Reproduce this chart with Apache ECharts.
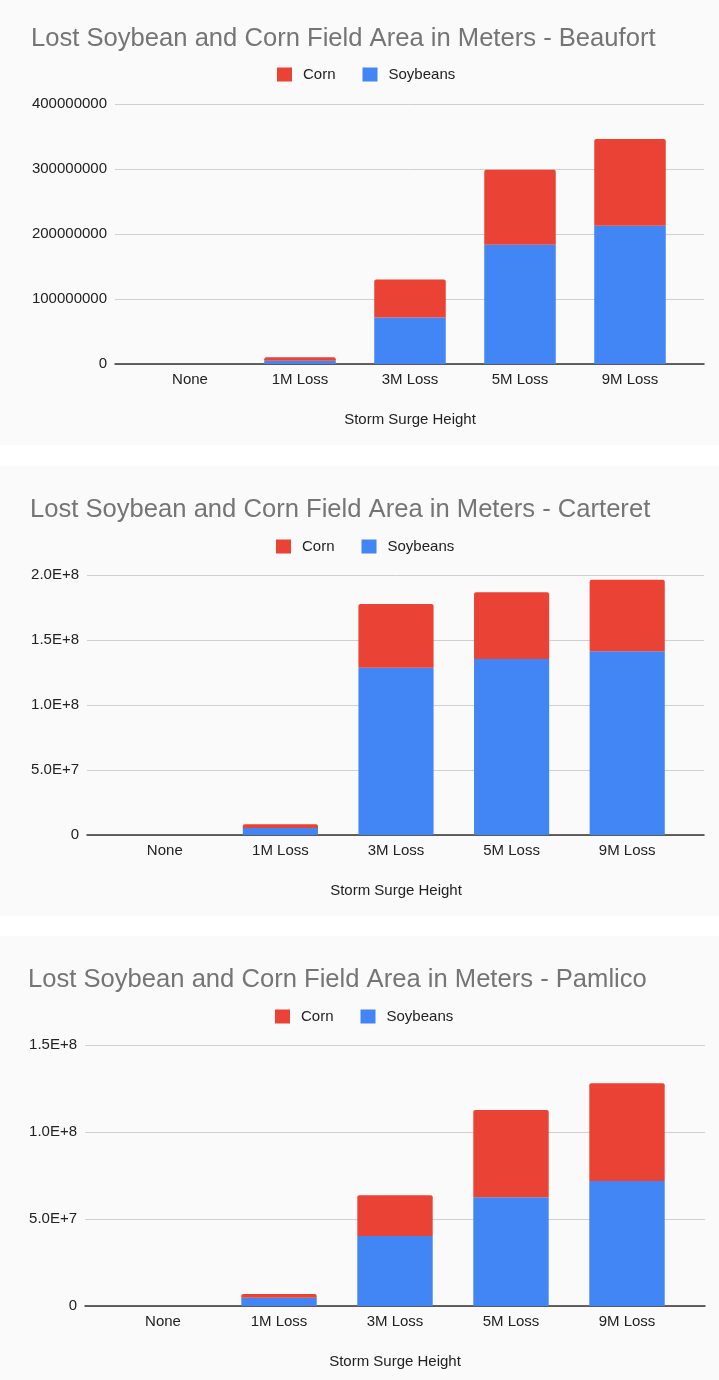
<!DOCTYPE html>
<html><head><meta charset="utf-8">
<script src="https://cdn.jsdelivr.net/npm/echarts@6/dist/echarts.min.js"></script>
<style>
html,body{margin:0;padding:0;background:#fff;}
#wrap{position:relative;width:719px;height:1380px;}
.panel{position:absolute;left:0;width:719px;background:#fafafa;}
#chart{position:absolute;left:0;top:0;width:719px;height:1380px;}
</style></head>
<body>
<div id="wrap">
<div class="panel" style="top:0;height:445px"></div>
<div class="panel" style="top:466px;height:450px"></div>
<div class="panel" style="top:936px;height:444px"></div>
<div id="chart"></div>
</div>
<script>
const categories = ['None', '1M Loss', '3M Loss', '5M Loss', '9M Loss'];
const countyNames = ['Beaufort', 'Carteret', 'Pamlico'];
const beaufortSoy = [0, 5.0e6, 71.6e6, 183.6e6, 212.8e6];
const beaufortCorn = [0, 5.2e6, 58.3e6, 115.1e6, 133.5e6];
const carteretSoy = [0, 5.4e6, 128.7e6, 135.4e6, 141.3e6];
const carteretCorn = [0, 2.8e6, 49.0e6, 51.3e6, 55.1e6];
const pamlicoSoy = [0, 4.8e6, 40.3e6, 62.5e6, 71.9e6];
const pamlicoCorn = [0, 2.1e6, 23.4e6, 50.1e6, 56.1e6];
const yMax = [400e6, 200e6, 150e6];
const yInterval = [100e6, 50e6, 50e6];

const soyData = [beaufortSoy, carteretSoy, pamlicoSoy];
const cornData = [beaufortCorn, carteretCorn, pamlicoCorn];

const layout = [
  {titleY: 39, titleX: 31, legendY: 74, legendX: 277, gridL: 115, gridR: 704, top: 104, bottom: 364, bandL: 135, bandR: 685},
  {titleY: 510, titleX: 30, legendY: 546, legendX: 276, gridL: 87, gridR: 704, top: 575, bottom: 835, bandL: 107, bandR: 685},
  {titleY: 980, titleX: 28, legendY: 1016, legendX: 275, gridL: 85, gridR: 705, top: 1045, bottom: 1306, bandL: 105, bandR: 685}
];
const FONT = '"Liberation Sans", Arial, sans-serif';
const fmtPlain = v => String(v);
const fmtExp = v => v === 0 ? '0' : v.toExponential(1).replace('e', 'E');

const title = [], legend = [], grid = [], xAxis = [], yAxis = [], series = [];
layout.forEach((L, i) => {
  title.push({
    text: 'Lost Soybean and Corn Field Area in Meters - ' + countyNames[i],
    left: L.titleX, top: L.titleY - 15, padding: 0,
    textStyle: {fontFamily: FONT, fontSize: 25.6, fontWeight: 'normal', color: '#757575', lineHeight: 30}
  });
  legend.push({
    left: L.legendX, top: L.legendY - 7, padding: 0,
    data: ['Corn', 'Soybeans'],
    icon: 'rect', itemWidth: 15, itemHeight: 14, itemGap: 27,
    textStyle: {fontFamily: FONT, fontSize: 15, color: '#222', padding: [0, 0, 0, 6]},
    selectedMode: false
  });
  const h = L.bottom - L.top;
  grid.push({left: L.gridL, top: L.top, width: L.gridR - L.gridL, height: h});
  grid.push({left: L.bandL, top: L.top, width: L.bandR - L.bandL, height: h});
  const g0 = 2 * i, g1 = 2 * i + 1;
  xAxis.push({
    gridIndex: g0, type: 'value', min: 0, max: 1,
    axisLine: {show: true, onZero: false, lineStyle: {color: '#333', width: 1.5}},
    axisTick: {show: false}, axisLabel: {show: false}, splitLine: {show: false}
  });
  xAxis.push({
    gridIndex: g1, type: 'category', data: categories,
    axisLine: {show: false}, axisTick: {show: false},
    axisLabel: {fontFamily: FONT, fontSize: 15, color: '#222', margin: 8},
    name: 'Storm Surge Height', nameLocation: 'middle', nameGap: 48,
    nameTextStyle: {fontFamily: FONT, fontSize: 15, color: '#222'}
  });
  yAxis.push({
    gridIndex: g0, type: 'value', min: 0, max: yMax[i], interval: yInterval[i],
    axisLine: {show: false}, axisTick: {show: false},
    axisLabel: {fontFamily: FONT, fontSize: 15, color: '#222', margin: 8, formatter: i === 0 ? fmtPlain : fmtExp},
    splitLine: {lineStyle: {color: '#d0d0d0', width: 1}}
  });
  yAxis.push({
    gridIndex: g1, type: 'value', min: 0, max: yMax[i], interval: yInterval[i],
    show: false, splitLine: {show: false}
  });
  series.push({
    name: 'Soybeans', type: 'bar', stack: 's' + i, xAxisIndex: g1, yAxisIndex: g1,
    data: soyData[i], barWidth: '65%', itemStyle: {color: '#4285f4'}
  });
  series.push({
    name: 'Corn', type: 'bar', stack: 's' + i, xAxisIndex: g1, yAxisIndex: g1,
    data: cornData[i], barWidth: '65%', itemStyle: {color: '#ea4335', borderRadius: [2, 2, 0, 0]}
  });
});

const chart = echarts.init(document.getElementById('chart'), null, {renderer: 'canvas'});
chart.setOption({
  backgroundColor: 'transparent',
  animation: false,
  title, legend, grid, xAxis, yAxis, series
});
</script>
</body></html>
